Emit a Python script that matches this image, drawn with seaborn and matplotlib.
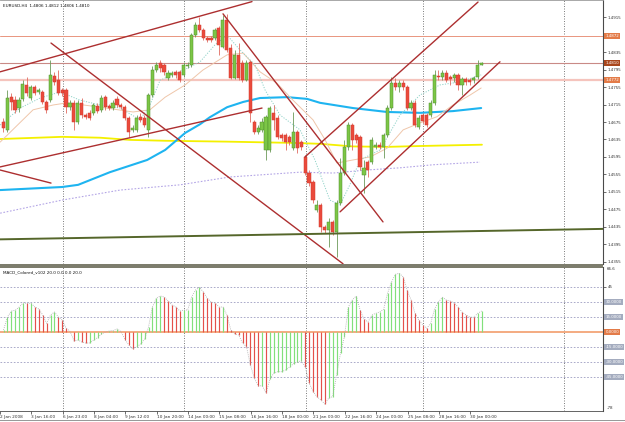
import numpy as np
import pandas as pd
import matplotlib
matplotlib.use("Agg")
import matplotlib.pyplot as plt
from matplotlib.patches import Rectangle
import seaborn as sns

# ---------------- data ----------------
bar_open = [1.4675, 1.4657, 1.4732, 1.4725, 1.4707, 1.4728, 1.4760, 1.4730, 1.4755, 1.4744,
            1.4744, 1.4721, 1.4725, 1.4781, 1.4771, 1.4748, 1.4748, 1.4709, 1.4719, 1.4675,
            1.4719, 1.4691, 1.4696, 1.4696, 1.4712, 1.4703, 1.4732, 1.4712, 1.4707, 1.4728,
            1.4714, 1.4709, 1.4684, 1.4657, 1.4657, 1.4687, 1.4684, 1.4657, 1.4737, 1.4794,
            1.4810, 1.4806, 1.4776, 1.4783, 1.4790, 1.4790, 1.4783, 1.4803, 1.4806, 1.4875,
            1.4897, 1.4886, 1.4868, 1.4868, 1.4868, 1.4891, 1.4847, 1.4909, 1.4845, 1.4776,
            1.4829, 1.4810, 1.4771, 1.4813, 1.4675, 1.4652, 1.4657, 1.4611, 1.4611, 1.4696,
            1.4684, 1.4645, 1.4645, 1.4641, 1.4615, 1.4652, 1.4629, 1.4595, 1.4558, 1.4538,
            1.4473, 1.4485, 1.4434, 1.4428, 1.4446, 1.4423, 1.4489, 1.4558, 1.4618, 1.4668,
            1.4645, 1.4641, 1.4554, 1.4583, 1.4583, 1.4618, 1.4622, 1.4618, 1.4645, 1.4707,
            1.4764, 1.4755, 1.4764, 1.4755, 1.4707, 1.4719, 1.4664, 1.4691, 1.4691, 1.4691,
            1.4719, 1.4781, 1.4778, 1.4787, 1.4778, 1.4776, 1.4783, 1.4760, 1.4774, 1.4771,
            1.4771, 1.4778, 1.4806]
bar_high = [1.4684, 1.4748, 1.4742, 1.4735, 1.4732, 1.4771, 1.4778, 1.4760, 1.4760, 1.4753,
            1.4748, 1.4725, 1.4817, 1.4790, 1.4794, 1.4753, 1.4753, 1.4725, 1.4725, 1.4725,
            1.4730, 1.4696, 1.4703, 1.4719, 1.4719, 1.4737, 1.4737, 1.4716, 1.4725, 1.4735,
            1.4719, 1.4714, 1.4689, 1.4668, 1.4691, 1.4696, 1.4691, 1.4742, 1.4803, 1.4813,
            1.4817, 1.4810, 1.4794, 1.4792, 1.4794, 1.4794, 1.4813, 1.4813, 1.4879, 1.4904,
            1.4916, 1.4891, 1.4872, 1.4872, 1.4891, 1.4895, 1.4920, 1.4923, 1.4854, 1.4840,
            1.4856, 1.4817, 1.4817, 1.4817, 1.4680, 1.4668, 1.4684, 1.4691, 1.4712, 1.4714,
            1.4691, 1.4650, 1.4650, 1.4645, 1.4698, 1.4657, 1.4634, 1.4599, 1.4565, 1.4542,
            1.4496, 1.4489, 1.4439, 1.4455, 1.4450, 1.4496, 1.4593, 1.4634, 1.4675, 1.4673,
            1.4650, 1.4645, 1.4588, 1.4588, 1.4641, 1.4629, 1.4629, 1.4650, 1.4714, 1.4778,
            1.4776, 1.4771, 1.4771, 1.4760, 1.4725, 1.4725, 1.4691, 1.4696, 1.4696, 1.4725,
            1.4794, 1.4794, 1.4794, 1.4794, 1.4783, 1.4787, 1.4787, 1.4778, 1.4778, 1.4776,
            1.4781, 1.4817, 1.4812]
bar_low = [1.4652, 1.4652, 1.4703, 1.4696, 1.4698, 1.4723, 1.4735, 1.4725, 1.4737, 1.4739,
           1.4716, 1.4696, 1.4721, 1.4760, 1.4737, 1.4735, 1.4696, 1.4703, 1.4657, 1.4670,
           1.4684, 1.4682, 1.4680, 1.4691, 1.4696, 1.4698, 1.4703, 1.4703, 1.4703, 1.4709,
           1.4705, 1.4680, 1.4641, 1.4652, 1.4652, 1.4675, 1.4664, 1.4641, 1.4732, 1.4790,
           1.4790, 1.4783, 1.4771, 1.4778, 1.4776, 1.4767, 1.4778, 1.4799, 1.4801, 1.4870,
           1.4881, 1.4863, 1.4858, 1.4858, 1.4863, 1.4829, 1.4845, 1.4836, 1.4774, 1.4774,
           1.4771, 1.4767, 1.4769, 1.4675, 1.4648, 1.4648, 1.4652, 1.4588, 1.4606, 1.4657,
           1.4636, 1.4631, 1.4611, 1.4622, 1.4611, 1.4604, 1.4611, 1.4554, 1.4528, 1.4489,
           1.4469, 1.4423, 1.4421, 1.4389, 1.4416, 1.4366, 1.4485, 1.4554, 1.4611, 1.4611,
           1.4627, 1.4565, 1.4512, 1.4549, 1.4579, 1.4613, 1.4613, 1.4593, 1.4641, 1.4703,
           1.4748, 1.4744, 1.4748, 1.4703, 1.4703, 1.4664, 1.4659, 1.4673, 1.4664, 1.4687,
           1.4714, 1.4771, 1.4771, 1.4767, 1.4760, 1.4767, 1.4748, 1.4737, 1.4760, 1.4760,
           1.4764, 1.4774, 1.4806]
bar_close = [1.4661, 1.4730, 1.4721, 1.4703, 1.4725, 1.4762, 1.4742, 1.4755, 1.4742, 1.4748,
             1.4721, 1.4703, 1.4783, 1.4767, 1.4742, 1.4742, 1.4709, 1.4719, 1.4675, 1.4719,
             1.4691, 1.4687, 1.4684, 1.4714, 1.4700, 1.4730, 1.4709, 1.4707, 1.4719, 1.4714,
             1.4709, 1.4684, 1.4652, 1.4661, 1.4684, 1.4680, 1.4668, 1.4737, 1.4794, 1.4806,
             1.4799, 1.4790, 1.4787, 1.4787, 1.4783, 1.4771, 1.4806, 1.4806, 1.4875, 1.4897,
             1.4886, 1.4868, 1.4863, 1.4863, 1.4886, 1.4852, 1.4909, 1.4840, 1.4776, 1.4829,
             1.4776, 1.4771, 1.4810, 1.4696, 1.4652, 1.4661, 1.4675, 1.4687, 1.4707, 1.4680,
             1.4641, 1.4638, 1.4629, 1.4629, 1.4652, 1.4615, 1.4618, 1.4558, 1.4535, 1.4496,
             1.4485, 1.4434, 1.4428, 1.4446, 1.4423, 1.4489, 1.4558, 1.4618, 1.4668, 1.4634,
             1.4634, 1.4572, 1.4570, 1.4565, 1.4634, 1.4622, 1.4618, 1.4645, 1.4707, 1.4764,
             1.4755, 1.4764, 1.4755, 1.4707, 1.4719, 1.4668, 1.4684, 1.4677, 1.4668, 1.4719,
             1.4783, 1.4778, 1.4787, 1.4771, 1.4774, 1.4783, 1.4760, 1.4774, 1.4767, 1.4767,
             1.4776, 1.4806, 1.4810]

macd_hist = [2, 15, 21, 21.7, 25, 29, 28.7, 28.7, 25, 23,
             17, 8.7, 17, 20, 15, 12, 3.7, 0.5, -9, -8,
             -10, -11, -11, -8, -5.7, -2, 0, 1, 1.5, 3,
             0.5, -7.7, -13, -17, -14.7, -12, -7, 5, 25, 33.7,
             36, 35, 31, 27, 25, 21, 22, 22, 35, 42,
             44.7, 40, 33.7, 30, 29, 25, 25, 17, 2, -2,
             -3, -11, -14.7, -33, -46, -54, -53.7, -61, -47, -41,
             -39.7, -39.7, -38, -35, -31.7, -30, -28.7, -35, -51, -59.7,
             -64.7, -68, -72, -66, -64.7, -43, -21, -4.7, 25, 32,
             36, 22, 13, 10, 17, 18.7, 20, 22.7, 38.7, 50,
             57.7, 58.7, 55, 42, 32, 18.7, 12, 7, 3.7, 8.7,
             22.7, 30, 34.7, 32, 31, 29, 25, 20, 17, 15,
             14.7, 18.7, 21]

# moving averages sampled along the curves (bar index, price)
ma_blue_bar = [-0.8, 15.0, 19.1, 27.2, 36.7, 41.3, 46.4, 50.2, 52.7, 57.1, 61.2, 65.5, 72.4,
               77.5, 80.8, 89.2, 97.9, 106.3, 114.7, 121.9]
ma_blue_val = [1.4519, 1.4526, 1.4531, 1.4560, 1.4588, 1.4611, 1.4650, 1.4670, 1.4686, 1.4709,
               1.4721, 1.4730, 1.4732, 1.4728, 1.4719, 1.4707, 1.4698, 1.4696, 1.4700, 1.4707]
ma_yellow_bar = [-0.8, 15.0, 24.7, 32.3, 41.3, 57.1, 74.5, 80.8, 89.2, 97.9, 106.3, 122.1]
ma_yellow_val = [1.4636, 1.4641, 1.4639, 1.4634, 1.4632, 1.4630, 1.4627, 1.4625, 1.4619,
                 1.4618, 1.4620, 1.4623]
ma_lav_bar = [-0.8, 15.0, 29.8, 45.1, 57.8, 75.7, 84.1, 92.8, 101.2, 109.6, 121.6]
ma_lav_val = [1.4466, 1.4496, 1.4519, 1.4531, 1.4549, 1.4560, 1.4558, 1.4565, 1.4570,
              1.4577, 1.4583]
ma_tan_bar = [-0.8, 7.6, 12.7, 16.3, 24.7, 33.1, 37.4, 41.3, 46.4, 50.9, 57.1, 61.2, 65.5,
              69.8, 73.9, 79.0, 82.1, 85.1, 89.2, 93.6, 97.9, 102.0, 106.3, 110.6, 114.7,
              119.1, 121.9]
ma_tan_val = [1.4629, 1.4703, 1.4714, 1.4719, 1.4709, 1.4698, 1.4703, 1.4732, 1.4760, 1.4794,
              1.4829, 1.4833, 1.4790, 1.4764, 1.4725, 1.4680, 1.4634, 1.4581, 1.4588, 1.4595,
              1.4615, 1.4657, 1.4673, 1.4687, 1.4714, 1.4737, 1.4753]
ma_teal_bar = [-0.8, 4.3, 9.4, 14.5, 19.6, 24.7, 29.8, 34.9, 37.4, 40.0, 45.1, 50.2, 54.0,
               57.1, 60.4, 64.2, 66.8, 70.6, 75.7, 79.5, 83.3, 85.9, 88.4, 91.0, 96.1, 101.2,
               106.3, 111.4, 116.5, 121.9]
ma_teal_val = [1.4668, 1.4707, 1.4730, 1.4744, 1.4725, 1.4714, 1.4707, 1.4680, 1.4714, 1.4771,
               1.4790, 1.4813, 1.4852, 1.4874, 1.4840, 1.4806, 1.4748, 1.4691, 1.4657, 1.4588,
               1.4496, 1.4485, 1.4531, 1.4588, 1.4611, 1.4691, 1.4737, 1.4760, 1.4767, 1.4783]

# trend lines: (bar0, price0, bar1, price1)
trend_red = [(-0.84, 1.4790, 63.44, 1.4951),
             (-0.84, 1.4572, 66.0, 1.4707),
             (-0.84, 1.4565, 12.17, 1.4535),
             (12.17, 1.4856, 86.66, 1.4350),
             (56.05, 1.4923, 96.86, 1.4446),
             (76.96, 1.4595, 121.1, 1.4950),
             (85.9, 1.4469, 126.7, 1.4813)]
trend_green = (-0.84, 1.4406, 152.98, 1.4430)

h_levels = [1.4872, 1.4810, 1.4772]
price_ticks = [1.4915, 1.4835, 1.4795, 1.4755, 1.4715, 1.4675, 1.4635, 1.4595,
               1.4555, 1.4515, 1.4475, 1.4435, 1.4395, 1.4355]
macd_levels = [45, 30, 15, -15, -30, -45]
macd_box_levels = [30, 15, -15, -30, -45]
time_tick_bars = [0, 8, 16, 24, 32, 40, 48, 56, 64, 72, 80, 88, 96, 104, 112, 120]
time_tick_labels = ["2 Jan 2008", "3 Jan 16:00", "6 Jan 23:00", "8 Jan 04:00", "9 Jan 12:00",
                    "10 Jan 20:00", "14 Jan 00:00", "15 Jan 08:00", "16 Jan 16:00",
                    "18 Jan 00:00", "21 Jan 00:00", "22 Jan 16:00", "24 Jan 00:00",
                    "25 Jan 08:00", "28 Jan 16:00", "30 Jan 00:00"]
week_grid_bars = [15.15, 46.1, 77.1, 107.0, 143.0]

# ---------------- figure ----------------
sns.set_theme(style="white")
plt.rcParams['font.family'] = ['DejaVu Sans']

W, H = 625, 422
fig = plt.figure(figsize=(W / 100, H / 100), dpi=100)
fig.patch.set_facecolor('white')


def px_rect(x0, y0, x1, y1):
    return [x0 / W, 1 - y1 / H, (x1 - x0) / W, (y1 - y0) / H]


ax1 = fig.add_axes(px_rect(0, 0, 603, 264))
ax2 = fig.add_axes(px_rect(0, 267, 603, 411))
XL = (-0.84, 152.98)
for ax in (ax1, ax2):
    ax.set_xlim(*XL)
    ax.set_facecolor('white')
    for s in ax.spines.values():
        s.set_visible(False)
    ax.spines['right'].set_visible(True)
    ax.spines['right'].set_color('#4a4a4a')
    ax.spines['right'].set_linewidth(0.8)
    for g in week_grid_bars:
        ax.axvline(g, color='#6a6a6a', lw=0.6, ls=(0, (1.2, 1.8)), zorder=1)

ax1.set_ylim(1.43495, 1.49547)
ax2.set_ylim(-79, 65)
ax1.spines['top'].set_visible(True)
ax1.spines['top'].set_color('#9a9a9a')
ax1.spines['top'].set_linewidth(0.6)

# horizontal price lines
ax1.axhline(h_levels[0], color='#e9957f', lw=0.7, zorder=2)
ax1.axhline(h_levels[1], color='#c98a86', lw=0.8, zorder=2)
ax1.axhline(h_levels[2], color='#f5c4bd', lw=1.6, zorder=2)

# moving averages
sns.lineplot(x=ma_lav_bar, y=ma_lav_val, ax=ax1, color='#b4a6e6', lw=0.8,
             linestyle=(0, (1.5, 1.5)), legend=False, zorder=3)
sns.lineplot(x=ma_yellow_bar, y=ma_yellow_val, ax=ax1, color='#f4f000', lw=1.3,
             legend=False, zorder=3)
sns.lineplot(x=ma_blue_bar, y=ma_blue_val, ax=ax1, color='#1eb4f0', lw=1.5,
             legend=False, zorder=3)
sns.lineplot(x=ma_tan_bar, y=ma_tan_val, ax=ax1, color='#efc6aa', lw=0.7,
             legend=False, zorder=3)
sns.lineplot(x=ma_teal_bar, y=ma_teal_val, ax=ax1, color='#8fd2c8', lw=0.7,
             linestyle=(0, (1.2, 1.5)), legend=False, zorder=3)

# candles
df = pd.DataFrame({'i': np.arange(len(bar_close)), 'o': bar_open, 'h': bar_high,
                   'l': bar_low, 'c': bar_close})
up = df['c'] >= df['o']
ax1.vlines(df.loc[up, 'i'], df.loc[up, 'l'], df.loc[up, 'h'], color='#6c9a5a', lw=0.6, zorder=4)
ax1.vlines(df.loc[~up, 'i'], df.loc[~up, 'l'], df.loc[~up, 'h'], color='#e06a60', lw=0.6, zorder=4)
body_h = (df['c'] - df['o']).abs().clip(lower=0.00012)
body_b = np.minimum(df['o'], df['c'])
ax1.bar(df['i'], body_h, bottom=body_b, width=0.8,
        color=np.where(up, '#7cc646', '#ea4a3c'),
        edgecolor=np.where(up, '#4f8f2e', '#d23a2e'), linewidth=0.35, zorder=5)

# trend lines
for (b0, p0, b1, p1) in trend_red:
    sns.lineplot(x=[b0, b1], y=[p0, p1], ax=ax1, color='#ad2f30', lw=1.0,
                 legend=False, zorder=6)
b0, p0, b1, p1 = trend_green
sns.lineplot(x=[b0, b1], y=[p0, p1], ax=ax1, color='#55662a', lw=1.4, legend=False, zorder=6)

# price axis
ax1.yaxis.tick_right()
ax1.set_yticks(price_ticks)
ax1.set_yticklabels([f"{t:.4f}" for t in price_ticks])
ax1.tick_params(axis='y', length=2, width=0.5, pad=1.5, labelsize=2.9,
                colors='#333333', right=True, left=False)
ax1.set_xticks([])
ax1.set_xlabel('')
ax1.set_ylabel('')

ytr = ax1.get_yaxis_transform()
box_cols = ['#e37b48', '#a9461c', '#e37b48']
for lv, bc in zip(h_levels, box_cols):
    ax1.text(1.004, lv, f"{lv:.4f}", transform=ytr, fontsize=2.9, color='white',
             va='center', ha='left', clip_on=False, zorder=10,
             bbox=dict(boxstyle='square,pad=0.25', fc=bc, ec='none'))

ax1.text(0.005, 0.985,
         f"EURUSD,H4  {bar_open[-1]:.4f} {bar_high[-1]:.4f} {bar_low[-1]:.4f} {bar_close[-1]:.4f}",
         transform=ax1.transAxes, fontsize=3.0, color='#111111', va='top', ha='left', zorder=10)

# ---------------- MACD panel ----------------
for lv in macd_levels:
    ax2.axhline(lv, color='#9c9cc0', lw=0.6, ls=(0, (2, 2)), zorder=1)
ax2.axhline(0, color='#f3a577', lw=1.3, zorder=2)

hist = np.array(macd_hist)
prev = np.concatenate([[0.0], hist[:-1]])
rising = hist >= prev
hidx = np.arange(len(hist))
ax2.vlines(hidx[rising], 0, hist[rising], color='#82e07a', lw=0.85, zorder=3)
ax2.vlines(hidx[~rising], 0, hist[~rising], color='#e4504a', lw=0.85, zorder=3)
sns.lineplot(x=hidx, y=hist, ax=ax2, color='#a8a8a8', lw=0.6,
             linestyle=(0, (1, 1.5)), legend=False, zorder=4)

ax2.text(0.005, 0.975, "MACD_Colored_v102 20.0 0.0 0.0 20.0", transform=ax2.transAxes,
         fontsize=3.0, color='#111111', va='top', ha='left', zorder=10)

ax2.yaxis.tick_right()
ax2.set_yticks([45])
ax2.set_yticklabels(["45"])
ax2.tick_params(axis='y', length=2, width=0.5, pad=1.5, labelsize=2.9,
                colors='#333333', right=True, left=False)
ytr2 = ax2.get_yaxis_transform()
ax2.text(1.006, 63, "66.6", transform=ytr2, fontsize=2.9, color='#333333',
         va='center', ha='left', clip_on=False)
ax2.text(1.006, -76, "-78", transform=ytr2, fontsize=2.9, color='#333333',
         va='center', ha='left', clip_on=False)
for lv in macd_box_levels:
    ax2.text(1.004, lv, f"{lv:.4f}", transform=ytr2, fontsize=2.9, color='white',
             va='center', ha='left', clip_on=False, zorder=10,
             bbox=dict(boxstyle='square,pad=0.25', fc='#a4acbf', ec='none'))
ax2.text(1.004, 0, "0.0000", transform=ytr2, fontsize=2.9, color='white',
         va='center', ha='left', clip_on=False, zorder=10,
         bbox=dict(boxstyle='square,pad=0.25', fc='#e37b48', ec='none'))

ax2.spines['bottom'].set_visible(True)
ax2.spines['bottom'].set_color('#4a4a4a')
ax2.spines['bottom'].set_linewidth(0.6)
ax2.set_xticks([b - 0.9 for b in time_tick_bars])
ax2.set_xticklabels(time_tick_labels, ha='left')
ax2.tick_params(axis='x', length=2, width=0.5, pad=1.2, labelsize=3.1,
                colors='#333333', bottom=True)
ax2.set_xlabel('')
ax2.set_ylabel('')

# panel separator band and bottom frame
fig.patches.append(Rectangle((0, 1 - 267.5 / H), 603 / W, 3.5 / H, transform=fig.transFigure,
                             facecolor='#7d7d6d', edgecolor='none', zorder=20))
fig.patches.append(Rectangle((0, 1 - 421 / H), 1, 1.0 / H, transform=fig.transFigure,
                             facecolor='#9a9a9a', edgecolor='none', zorder=20))

fig.savefig('out.png', dpi=100)
